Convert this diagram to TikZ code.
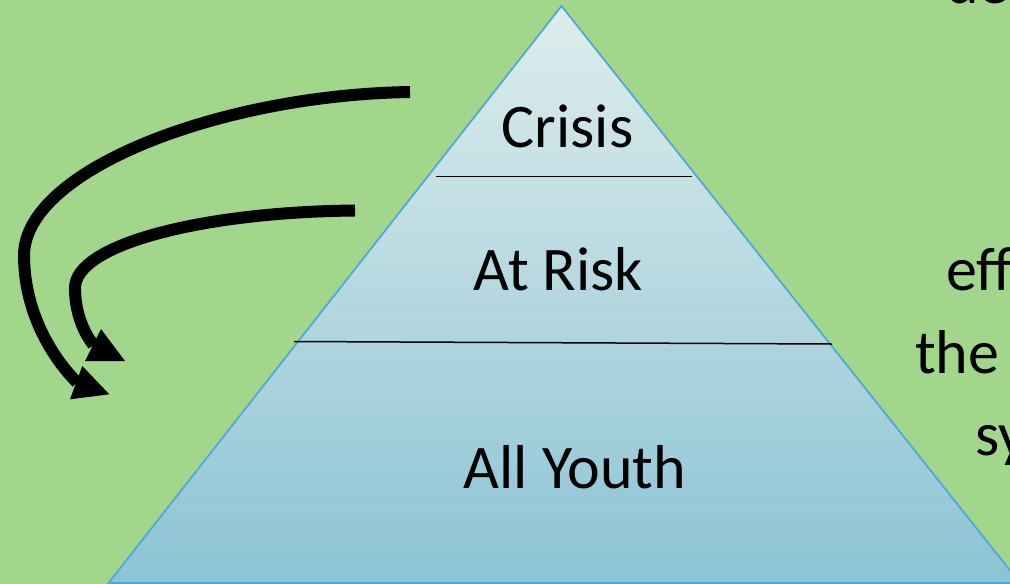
\documentclass[tikz,border=0pt]{standalone}
\usepackage{fontspec}
\setmainfont{Carlito}
\definecolor{bggreen}{RGB}{162,215,139}
\definecolor{tritop}{RGB}{222,237,236}
\definecolor{tribot}{RGB}{140,195,213}
\definecolor{triedge}{RGB}{82,168,214}
\tikzset{
  lbl/.style={inner sep=0pt, anchor=base, font=\fontsize{62}{70}\selectfont},
  sidelbl/.style={inner sep=0pt, anchor=base west, font=\fontsize{62}{70}\selectfont},
  shaft/.style={line width=12pt, line cap=butt, black},
  head/.style={fill=black, draw=none},
  divider/.style={line width=1.5pt, black}
}
\begin{document}
\begin{tikzpicture}[x=1pt,y=-1pt]
\useasboundingbox (0,0) rectangle (1010,584);
\clip (0,0) rectangle (1010,584);
\fill[bggreen] (0,0) rectangle (1010,584);
% pyramid
\coordinate (apex) at (561.5,6);
\coordinate (bl) at (108.5,583);
\coordinate (br) at (1020,583);
\shade[top color=tritop, bottom color=tribot] (apex) -- (bl) -- (br) -- cycle;
\draw[triedge, line width=1.8pt, line join=miter] (apex) -- (bl) -- (br) -- cycle;
% dividers
\coordinate (d1l) at (436,176.5);
\coordinate (d1r) at (692,176.5);
\coordinate (d2l) at (294,341.5);
\coordinate (d2r) at (832,344);
\draw[divider] (d1l) -- (d1r);
\draw[divider] (d2l) -- (d2r);
% labels
\node[lbl] (crisis) at (567.5,147) {Crisis};
\node[lbl] (risk) at (558.5,290) {At Risk};
\node[lbl] (youth) at (575,488) {All Youth};
% right side text fragments
\node[sidelbl] (de) at (946,3.5) {de};
\node[sidelbl] (eff) at (946,290) {eff};
\node[sidelbl] (the) at (915,373) {the};
\node[sidelbl] (sy) at (975,455) {sy};
% outer arrow
\coordinate (o1) at (410,92);
\coordinate (o2) at (24,255);
\coordinate (o3) at (77,382.5);
\draw[shaft] (o1) .. controls (220,95) and (25,170) .. (o2) .. controls (24,310) and (50,355) .. (o3);
\fill[head] (82.3,366) -- (70,399.3) -- (109.3,394.3) -- cycle;
% inner arrow
\coordinate (i1) at (355,210.5);
\coordinate (i2) at (75,288);
\coordinate (i3) at (93.5,345);
\draw[shaft] (i1) .. controls (200,212) and (75,245) .. (i2) .. controls (75,313) and (84,333) .. (i3);
\fill[head] (101,329) -- (85,361) -- (125,361) -- cycle;
\end{tikzpicture}
\end{document}
